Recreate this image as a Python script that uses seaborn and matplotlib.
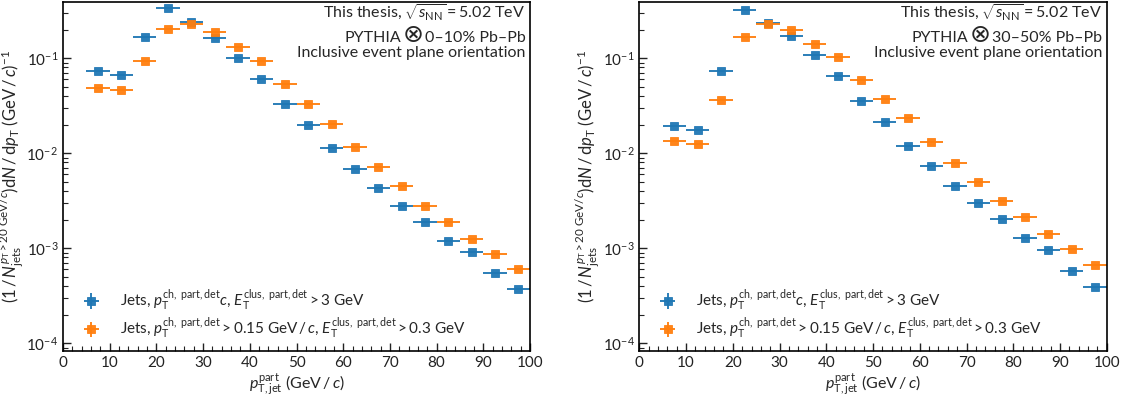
import numpy as np
import matplotlib
matplotlib.use("Agg")
import matplotlib.pyplot as plt
import seaborn as sns
from matplotlib.ticker import MultipleLocator, LogLocator, NullFormatter
from matplotlib.offsetbox import TextArea, HPacker, AnchoredOffsetbox

# Jet pT bins (GeV/c): 5 GeV wide from 5 to 100
bin_lo = [5, 10, 15, 20, 25, 30, 35, 40, 45, 50, 55, 60, 65, 70, 75, 80, 85, 90, 95]
bin_hi = [10, 15, 20, 25, 30, 35, 40, 45, 50, 55, 60, 65, 70, 75, 80, 85, 90, 95, 100]

# 0-10% Pb-Pb embedding
central_hard = [0.0735, 0.0662, 0.1675, 0.336, 0.239, 0.165, 0.1015, 0.061, 0.0333, 0.0197,
                0.0113, 0.00679, 0.00428, 0.00281, 0.00191, 0.0012, 0.00091, 0.000553, 0.000373]
central_soft = [0.0483, 0.046, 0.0944, 0.2018, 0.231, 0.189, 0.1324, 0.093, 0.0532, 0.0331,
                0.0203, 0.01164, 0.00713, 0.00456, 0.00279, 0.00191, 0.00126, 0.00087, 0.000605]

# 30-50% Pb-Pb embedding
semi_hard = [0.01935, 0.01758, 0.0735, 0.322, 0.237, 0.172, 0.1075, 0.0647, 0.0356, 0.0213,
             0.0120, 0.00735, 0.00456, 0.00298, 0.00203, 0.00127, 0.000966, 0.000581, 0.000394]
semi_soft = [0.0136, 0.01245, 0.0361, 0.1686, 0.2296, 0.197, 0.1404, 0.1025, 0.0586, 0.037,
             0.0233, 0.01305, 0.00796, 0.00499, 0.00315, 0.00215, 0.0014, 0.000984, 0.000662]

centralities = ["0\u201310%", "30\u201350%"]

labels = [
    r"Jets, $p_{\mathrm{T}}^{\mathrm{ch,\ part,det}}c$, $E_{\mathrm{T}}^{\mathrm{clus,\ part,det}} > 3$ GeV",
    r"Jets, $p_{\mathrm{T}}^{\mathrm{ch,\ part,det}} > 0.15$ GeV$\,/\,c$, $E_{\mathrm{T}}^{\mathrm{clus,\ part,det}} > 0.3$ GeV",
]

sns.set_theme(style="ticks")
plt.rcParams["font.family"] = ["Lato", "DejaVu Sans"]
plt.rcParams["mathtext.fontset"] = "custom"
plt.rcParams["mathtext.rm"] = "Lato"
plt.rcParams["mathtext.it"] = "Lato:italic"
plt.rcParams["mathtext.bf"] = "Lato:bold"
plt.rcParams["mathtext.sf"] = "Lato"
plt.rcParams["mathtext.fallback"] = "cm"

palette = sns.color_palette("tab10")
colors = [palette[0], palette[1]]

fig = plt.figure(figsize=(11.27, 4.0), dpi=100)
ax_l = fig.add_axes([0.0559, 0.1225, 0.4144, 0.8725])
ax_r = fig.add_axes([0.5673, 0.1225, 0.4147, 0.8725])

lo = np.array(bin_lo, dtype=float)
hi = np.array(bin_hi, dtype=float)
centers = 0.5 * (lo + hi)
half_w = 0.5 * (hi - lo)

panels = [(ax_l, central_hard, central_soft, centralities[0]),
          (ax_r, semi_hard, semi_soft, centralities[1])]

ylab = (r"$(1\,/\,N_{\mathrm{jets}}^{p_{\mathrm{T}} > 20\ \mathrm{GeV}/c})"
        r"\mathrm{d}N\,/\,\mathrm{d}p_{\mathrm{T}}$ $(\mathrm{GeV}\,/\,c)^{-1}$")

for ax, hard, soft, cent in panels:
    for series, col, lab in zip([hard, soft], colors, labels):
        vals = np.array(series)
        ax.errorbar(centers, vals, xerr=half_w, yerr=np.zeros_like(vals),
                    fmt="s", color=col, ms=5.5, mew=0.6, elinewidth=1.4,
                    capsize=0, label=lab, alpha=0.95)
    ax.set_yscale("log")
    ax.set_xlim(0, 100)
    ax.set_ylim(8.3e-5, 0.39)
    ax.xaxis.set_major_locator(MultipleLocator(10))
    ax.xaxis.set_minor_locator(MultipleLocator(2))
    ax.yaxis.set_minor_locator(LogLocator(base=10, subs=np.arange(2, 10)))
    ax.yaxis.set_minor_formatter(NullFormatter())
    ax.tick_params(which="both", direction="in", top=False, right=False,
                   labelsize=11, colors="#222222")
    ax.tick_params(which="major", length=6, width=1.0)
    ax.tick_params(which="minor", length=3.5, width=0.8)
    for sp in ax.spines.values():
        sp.set_linewidth(1.2)
        sp.set_color("black")
    ax.set_xlabel(r"$p_{\mathrm{T,jet}}^{\mathrm{part}}$ (GeV$\,/\,c$)", fontsize=11.5, labelpad=1)
    ax.set_ylabel(ylab, fontsize=12)
    ax.yaxis.set_label_coords(-0.079, 0.5)

    ax.text(0.99, 0.998, r"This thesis, $\sqrt{s_{\mathrm{NN}}} = 5.02$ TeV",
            transform=ax.transAxes, ha="right", va="top", fontsize=11.5)
    # second line with an enlarged convolution symbol
    line2 = HPacker(children=[
        TextArea("PYTHIA", textprops=dict(fontsize=11.5)),
        TextArea("\u2297", textprops=dict(fontsize=18, family="DejaVu Sans")),
        TextArea(cent + " Pb\u2013Pb", textprops=dict(fontsize=11.5)),
    ], align="baseline", pad=0, sep=1.0)
    box = AnchoredOffsetbox(loc="upper right", child=line2, pad=0, borderpad=0,
                            frameon=False, bbox_to_anchor=(0.99, 0.94),
                            bbox_transform=ax.transAxes)
    ax.add_artist(box)
    ax.text(0.99, 0.875, "Inclusive event plane orientation",
            transform=ax.transAxes, ha="right", va="top", fontsize=11.5)
    ax.legend(loc="lower left", bbox_to_anchor=(0.02, 0.0), frameon=False,
              fontsize=11, handlelength=1.3, handletextpad=1.2, labelspacing=0.15,
              borderaxespad=0.2)

fig.savefig("out.png", dpi=100)
